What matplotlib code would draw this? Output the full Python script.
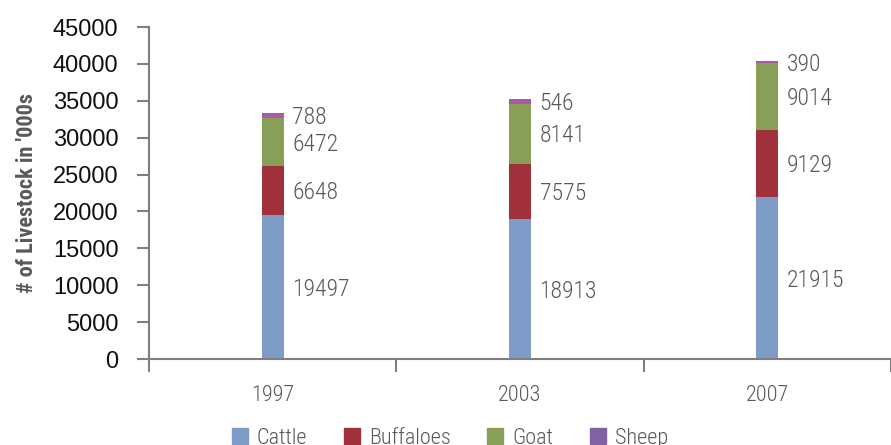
import matplotlib
matplotlib.use("Agg")
import matplotlib.pyplot as plt
from matplotlib.patches import Patch
import numpy as np

years = ["1997", "2003", "2007"]
series_names = ["Cattle", "Buffaloes", "Goat", "Sheep"]
cattle = [19497, 18913, 21915]
buffaloes = [6648, 7575, 9129]
goat = [6472, 8141, 9014]
sheep = [788, 546, 390]
yticks = [0, 5000, 10000, 15000, 20000, 25000, 30000, 35000, 40000, 45000]

narrow = ["Roboto Condensed", "DejaVu Sans"]
regular = ["Liberation Sans", "DejaVu Sans"]

bar_colors = ["#7f9bc8", "#a0303a", "#889f57", "#a85aaa"]
legend_colors = ["#7f9bc8", "#a0303a", "#889f57", "#7f62a3"]
gray = "#595959"

fig = plt.figure(figsize=(8.91, 4.45), dpi=100)
ax = fig.add_axes([149/891, (445-359)/445, (891-149)/891, 332/445])

x = np.arange(len(years))
w = 0.088
data = [cattle, buffaloes, goat, sheep]
bottom = np.zeros(len(years))
for vals, col in zip(data, bar_colors):
    vals = np.array(vals)
    ax.bar(x, vals, w, bottom=bottom, color=col, zorder=2)
    for xi, b, v in zip(x, bottom, vals):
        ax.text(xi + w/2 + 0.035, b + v/2 - 300, str(v), ha="left", va="center",
                fontsize=17, color=gray, family=narrow, fontweight="light")
    bottom = bottom + vals

ax.set_xlim(-0.5, -0.5 + 742/251)
ax.set_ylim(0, 45000)
ax.set_yticks(yticks)
ax.set_yticklabels([str(t) for t in yticks], fontsize=17, family=regular, color="#111111")
ax.tick_params(axis="y", length=9, width=1.5, color="#7f7f7f", pad=13)
ax.set_xticks(x)
ax.set_xticklabels(years, fontsize=16, family=narrow, color=gray, fontweight="light")
ax.tick_params(axis="x", which="major", length=0, pad=19)
ax.set_xticks([-0.5, 0.5, 1.5, 2.5], minor=True)
ax.tick_params(axis="x", which="minor", length=9, width=1.5, color="#7f7f7f", direction="out")

for s in ["top", "right"]:
    ax.spines[s].set_visible(False)
for s in ["left", "bottom"]:
    ax.spines[s].set_color("#7f7f7f")
    ax.spines[s].set_linewidth(1.5)

ax.set_ylabel("# of Livestock in '000s", fontsize=16, fontweight="bold", color=gray,
              family=narrow, labelpad=11)

handles = [Patch(color=c, label=n) for c, n in zip(legend_colors, series_names)]
leg = fig.legend(handles=handles, loc="center", bbox_to_anchor=(0.505, 0.015), ncol=4,
                 frameon=False, handlelength=0.72, handleheight=0.72, handletextpad=0.4,
                 columnspacing=1.65, prop={"family": narrow, "size": 16, "weight": "light"})
for t in leg.get_texts():
    t.set_color(gray)

fig.savefig("out.png", dpi=100)
